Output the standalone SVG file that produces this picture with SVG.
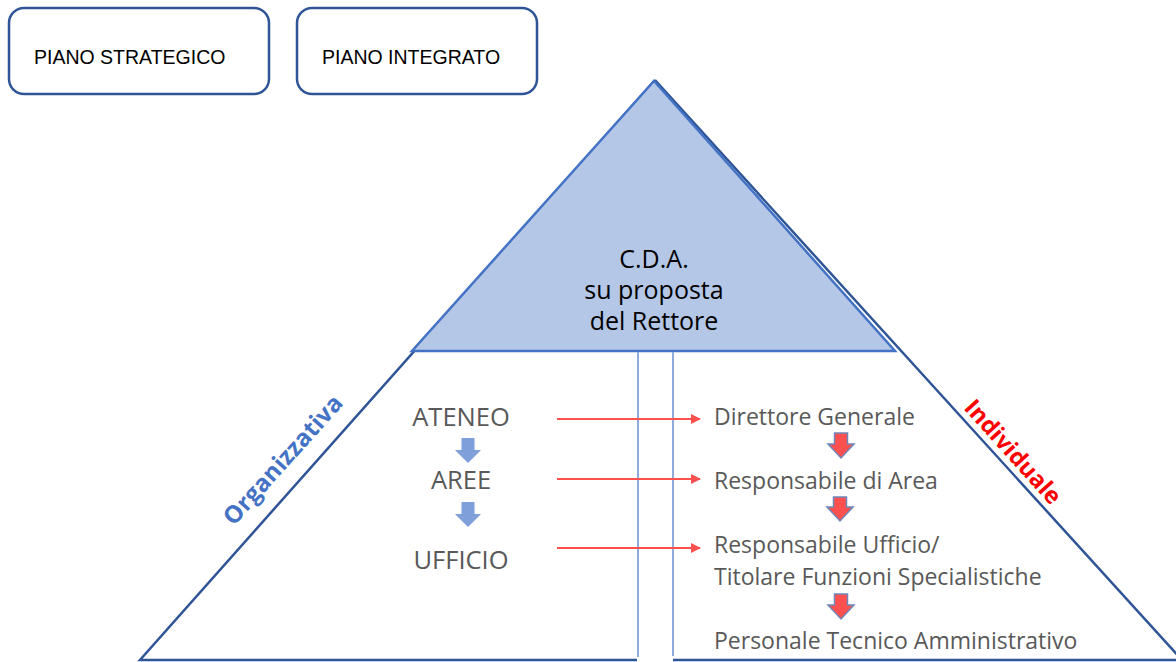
<svg xmlns="http://www.w3.org/2000/svg" width="1176" height="662" viewBox="0 0 1176 662">
<defs>
<style>
.box{fill:#fff;stroke:#2F5597;stroke-width:2.5}
.bt{font-family:"Liberation Sans",Arial,sans-serif;font-size:19.5px;fill:#000}
.lt{font-family:"Open Sans","Liberation Sans",sans-serif;font-size:25.5px;fill:#595959;text-anchor:middle}
.rt{font-family:"Open Sans","Liberation Sans",sans-serif;font-size:23px;fill:#595959}
.ct{font-family:"Open Sans","Liberation Sans",sans-serif;font-size:25px;fill:#000;text-anchor:middle}
.red{stroke:#FF5050;stroke-width:2;fill:none}
.vl{stroke:#8FAADC;stroke-width:2;fill:none}
.ba{fill:#7F9FDB}
.ra{fill:#FF5050;stroke:#6F86B8;stroke-width:1.5}
</style>
<marker id="ah" markerWidth="10" markerHeight="10" refX="9" refY="5" orient="auto" markerUnits="userSpaceOnUse" viewBox="0 0 10 10">
<path d="M0,0 L10,5 L0,10 Z" fill="#FF5050"/>
</marker>
</defs>
<rect width="1176" height="662" fill="#fff"/>
<g id="piano-strategico">
<rect class="box" x="9" y="8" width="260" height="86" rx="15"/>
<text class="bt" x="34" y="64">PIANO STRATEGICO</text>
</g>
<g id="piano-integrato">
<rect class="box" x="297" y="8" width="240" height="86" rx="15"/>
<text class="bt" x="322" y="64">PIANO INTEGRATO</text>
</g>
<g id="pyramid">
<path d="M655,80 L140,660 L637,660 M673,660 L1182,660 L655,80" fill="none" stroke="#2F5597" stroke-width="2.5"/>
</g>
<g id="cda">
<path d="M654,81 L412,351 L895,351 Z" fill="#B4C7E7" stroke="#4472C4" stroke-width="2.5"/>
<text class="ct" x="654" y="268">C.D.A.</text>
<text class="ct" x="654" y="299">su proposta</text>
<text class="ct" x="654" y="330">del Rettore</text>
</g>
<g id="organizzativa">
<text x="283" y="468" transform="rotate(-48 283 460)" font-family="Open Sans,Liberation Sans,sans-serif" font-size="24" font-weight="bold" fill="#4472C4" text-anchor="middle">Organizzativa</text>
</g>
<g id="individuale">
<text x="1013" y="460" transform="rotate(48 1013 452)" font-family="Open Sans,Liberation Sans,sans-serif" font-size="23.5" font-weight="bold" fill="#FF0000" text-anchor="middle">Individuale</text>
</g>
<g id="left-levels">
<text class="lt" x="461" y="426">ATENEO</text>
<text class="lt" x="461" y="489">AREE</text>
<text class="lt" x="461" y="569">UFFICIO</text>
</g>
<g id="right-levels">
<text class="rt" x="714" y="425">Direttore Generale</text>
<text class="rt" x="714" y="489">Responsabile di Area</text>
<text class="rt" x="714" y="553">Responsabile Ufficio/</text>
<text class="rt" x="714" y="585">Titolare Funzioni Specialistiche</text>
<text class="rt" x="714" y="649">Personale Tecnico Amministrativo</text>
</g>
<g id="connectors">
<line class="vl" x1="638" y1="352" x2="638" y2="657"/>
<line class="vl" x1="673" y1="352" x2="673" y2="656"/>
<line class="red" x1="557" y1="419" x2="700" y2="419" marker-end="url(#ah)"/>
<line class="red" x1="557" y1="479" x2="700" y2="479" marker-end="url(#ah)"/>
<line class="red" x1="557" y1="548" x2="700" y2="548" marker-end="url(#ah)"/>
<path class="ba" d="M461.5,438 h13 v12 h6.5 l-13,13 l-13,-13 h6.5 Z"/>
<path class="ba" d="M461.5,502 h13 v12 h6.5 l-13,13 l-13,-13 h6.5 Z"/>
<path class="ra" d="M834.5,433 h13 v11 h6.5 l-13,14 l-13,-14 h6.5 Z"/>
<path class="ra" d="M833.5,497 h13 v10 h6.5 l-13,14 l-13,-14 h6.5 Z"/>
<path class="ra" d="M834.5,594 h13 v11 h6.5 l-13,14 l-13,-14 h6.5 Z"/>
</g>
</svg>
